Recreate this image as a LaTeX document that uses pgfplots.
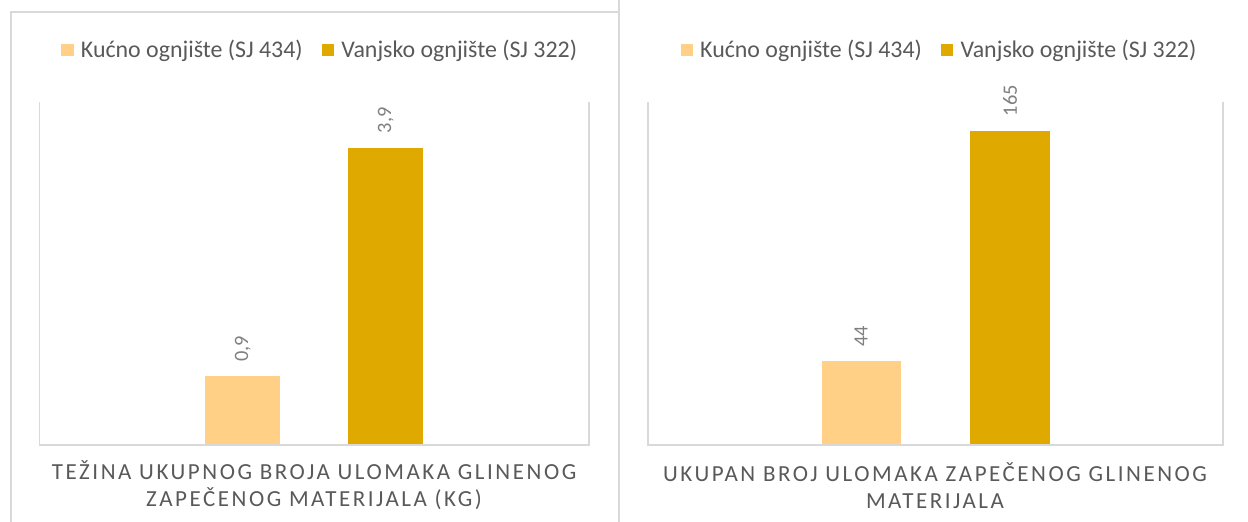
\documentclass[border=0pt]{standalone}
\usepackage{fontspec}
\setmainfont{Carlito}
\newfontfamily\spacedfont[LetterSpace=11]{Carlito}
\usepackage{pgfplots}
\pgfplotsset{compat=1.18}
\definecolor{lightbar}{HTML}{FFD086}
\definecolor{darkbar}{HTML}{E0A900}
\definecolor{txt}{HTML}{595959}
\definecolor{lbl}{HTML}{7F7F7F}
\definecolor{framec}{HTML}{D9D9D9}
\pgfplotsset{
  mybars/.style={
    scale only axis, height=171.5pt,
    xmin=-1, xmax=1, ymin=0,
    xtick=\empty, ytick=\empty,
    axis line style={draw=none},
    /pgf/number format/assume math mode=true,
    /pgf/number format/use comma,
    nodes near coords,
    every node near coord/.append style={rotate=90, anchor=west, inner xsep=7pt, inner ysep=0pt, font=\fontsize{10.2}{12}\selectfont, text=lbl},
    legend columns=2,
    legend style={draw=none, fill=none, at={(0.5,1)}, anchor=center, yshift=26pt,
      font=\fontsize{11.95}{14}\selectfont, text=txt,
      /tikz/every even column/.append style={column sep=7.5pt}},
    legend image code/.code={\fill[##1] (0pt,-3.1pt) rectangle (6.2pt,3.1pt); \path (7.8pt,0pt);},
    after end axis/.code={\draw[framec, line width=0.7pt] (rel axis cs:0,1) -- (rel axis cs:0,0) -- (rel axis cs:1,0) -- (rel axis cs:1,1);},
  }
}
\begin{document}
\begin{tikzpicture}
\useasboundingbox (0,0) rectangle (624pt,261pt);
\draw[framec, line width=1pt] (5.5pt,0pt) -- (5.5pt,255pt) -- (309.5pt,255pt);
\draw[framec, line width=1pt] (309.5pt,0pt) -- (309.5pt,261pt);
% left chart
\begin{axis}[mybars, at={(19.75pt,38.5pt)}, anchor=south west, width=274.75pt, ymax=4.5,
  legend style={xshift=3.5pt}]
\addplot[ybar, fill=lightbar, draw=none, bar width=0.273, bar shift=0pt] coordinates {(-0.26,0.9)};
\addplot[ybar, fill=darkbar, draw=none, bar width=0.273, bar shift=0pt] coordinates {(0.26,3.9)};
\legend{Kućno ognjište (SJ 434), Vanjsko ognjište (SJ 322)}
\end{axis}
% right chart
\begin{axis}[mybars, at={(324pt,38.5pt)}, anchor=south west, width=287.5pt, ymax=180,
  legend style={xshift=2.5pt}]
\addplot[ybar, fill=lightbar, draw=none, bar width=0.275, bar shift=0pt] coordinates {(-0.259,44)};
\addplot[ybar, fill=darkbar, draw=none, bar width=0.275, bar shift=0pt] coordinates {(0.259,165)};
\legend{Kućno ognjište (SJ 434), Vanjsko ognjište (SJ 322)}
\end{axis}
\node[align=center, text=txt, font=\spacedfont\fontsize{11.5}{13.5}\selectfont] at (157pt,18.25pt) {TEŽINA UKUPNOG BROJA ULOMAKA GLINENOG\\ZAPEČENOG MATERIJALA (KG)};
\node[align=center, text=txt, font=\spacedfont\fontsize{11.5}{13.5}\selectfont] at (467.5pt,18.25pt) {UKUPAN BROJ ULOMAKA ZAPEČENOG GLINENOG\\MATERIJALA};
\end{tikzpicture}
\end{document}
